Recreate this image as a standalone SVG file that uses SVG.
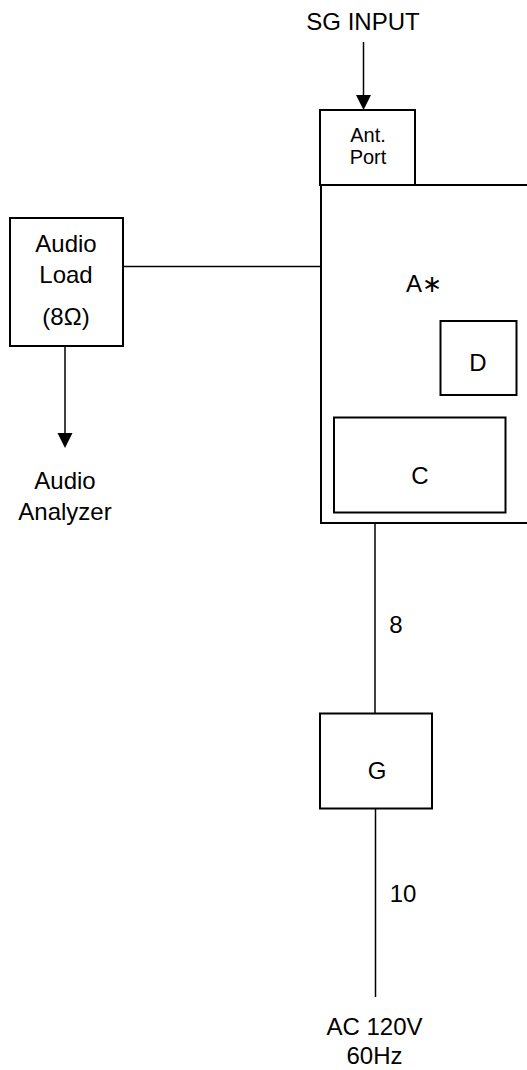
<svg xmlns="http://www.w3.org/2000/svg" width="527" height="1070" viewBox="0 0 527 1070">
<style>
.box{fill:#fff;stroke:#000;stroke-width:2}
.ln{stroke:#000;stroke-width:1.5;fill:none}
text{font-family:"Liberation Sans",Arial,"DejaVu Sans",sans-serif;font-size:24px;fill:#000;text-anchor:middle}
.sm{font-size:20px}
</style>
<rect width="527" height="1070" fill="#fff"/>
<g id="connectors">
<line class="ln" x1="363.5" y1="42" x2="363.5" y2="95"/>
<path d="M356,95 L371,95 L363.5,110 z" fill="#000"/>
<line class="ln" x1="123" y1="266.5" x2="320" y2="266.5"/>
<line class="ln" x1="65" y1="346" x2="65" y2="433"/>
<path d="M57.5,433 L72.5,433 L65,448 z" fill="#000"/>
<line class="ln" x1="375" y1="523" x2="375" y2="713"/>
<line class="ln" x1="375.5" y1="808" x2="375.5" y2="997"/>
</g>
<g id="sg-input"><text x="363" y="30">SG INPUT</text></g>
<g id="main-a">
<rect class="box" x="321" y="185" width="230" height="338"/>
<text x="424" y="292">A∗</text>
</g>
<g id="ant-port">
<rect class="box" x="320" y="110" width="95" height="75"/>
<text class="sm" x="368" y="141.5">Ant.</text>
<text class="sm" x="368" y="163.5">Port</text>
</g>
<g id="d"><rect class="box" x="440.5" y="321" width="76" height="74"/><text x="478" y="371">D</text></g>
<g id="c"><rect class="box" x="334" y="417.5" width="171.5" height="95"/><text x="420" y="483.5">C</text></g>
<g id="audio-load">
<rect class="box" x="10" y="218" width="113" height="128"/>
<text x="66" y="252">Audio</text>
<text x="66" y="283">Load</text>
<text x="66" y="325">(8Ω)</text>
</g>
<g id="audio-analyzer">
<text x="65" y="489">Audio</text>
<text x="65" y="520">Analyzer</text>
</g>
<g id="label-8"><text x="396" y="633">8</text></g>
<g id="g"><rect class="box" x="320" y="713.5" width="112" height="95"/><text x="377" y="778.5">G</text></g>
<g id="label-10"><text x="403" y="902">10</text></g>
<g id="ac">
<text x="374.5" y="1035">AC 120V</text>
<text x="374.5" y="1064">60Hz</text>
</g>
</svg>
